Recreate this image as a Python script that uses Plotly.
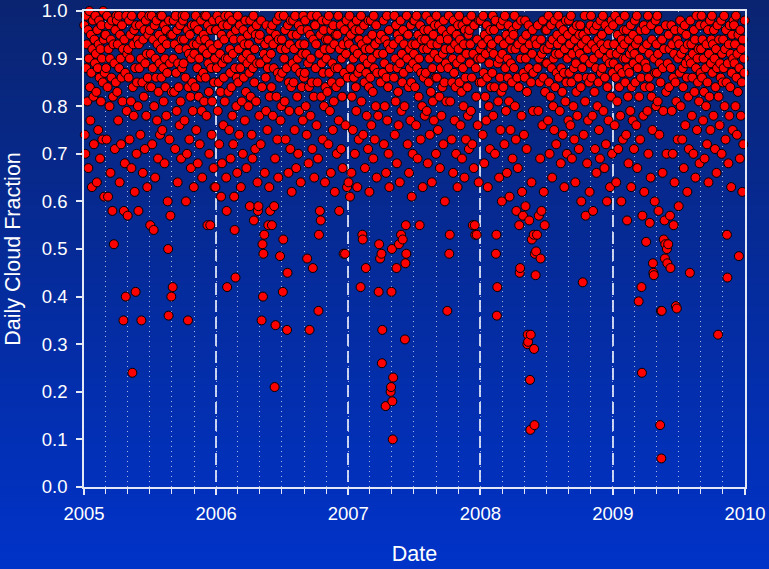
import pandas as pd
import plotly.graph_objects as go

# Daily cloud fraction readings, one list per month (Jan..Dec) for each year
cf_2005 = [
    [.97,.74,.70,.99,.88,.93,.81,.96,.67,.90,1.0,.84,.77,.95,.87,.63,.92,.98,.82,.72,.94,.89],
    [.99,.91,.83,.64,.96,.88,.75,.93,.98,.86,.69,.92,.81,.97,.90,.73,.85,1.0,.94,.61,.87,.95],
    [.95,.88,.73,.99,.84,.61,.92,.97,.80,.90,.66,.94,.86,.98,.58,.82,.93,.51,.89,.71,.96,.85,.99],
    [.98,.83,.93,.77,.99,.88,.64,.95,.90,.72,.86,.97,.81,.92,.35,.58,.94,.68,.87,.40,.99,.79,.91],
    [.57,.92,.86,.98,.73,.90,.95,.81,.67,.99,.24,.84,.93,.78,.96,.62,.88,.41,.97,.70,.85,.94,.80,.58],
    [.93,.88,.97,.74,.90,.35,.99,.85,.66,.94,.82,.96,.71,.89,.98,.78,.91,.63,.86,.95,.84,.99],
    [.96,.55,.91,.84,.99,.72,.88,.94,.54,.80,.97,.65,.90,.86,.98,.77,.93,.69,.83,.95,.89,.74,.99],
    [.92,.86,.99,.75,.94,.88,.81,.97,.68,.90,.84,.96,.78,.93,.87,.60,.50,.36,.98,.73,.89,.57,.95,.40,.83],
    [.95,.42,.90,.98,.83,.93,.71,.99,.87,.79,.96,.64,.89,.84,.92,.76,.97,.81,.69,.94,.88,.99],
    [.98,.89,.94,.77,.99,.86,.60,.92,.70,.96,.35,.84,.91,.73,.95,.82,.67,.90,.97,.85,.79,.93,.63],
    [.91,.97,.84,.99,.75,.93,.88,.68,.96,.82,.90,.72,.94,.86,.98,.79,.65,.92,.87,.95,.81,.99],
    [.94,.86,.99,.78,.91,.55,.97,.89,.83,.70,.93,.55,.96,.88,.74,.81,.92,.98,.67,.85,.63,.90,.63,.96],
]
cf_2006 = [
    [.96,.88,.99,.79,.93,.85,.72,.98,.91,.83,.61,.95,.68,.89,.97,.76,.86,.94,.81,.99,.90,.65,.58,.42],
    [.97,.90,.83,.99,.75,.92,.87,.69,.95,.84,.98,.78,.91,.72,.94,.61,.54,.88,.44,.96,.80,.86,.66],
    [.99,.85,.92,.74,.97,.88,.63,.94,.81,.90,.70,.96,.86,.93,.77,.98,.83,.67,.91,.89,.95,.80],
    [.93,.87,.59,.98,.82,.90,.74,.96,.69,.88,.99,.56,.85,.92,.71,.95,.81,.97,.89,.64,.58,.59,.94,.78],
    [.95,.89,.72,.98,.35,.84,.51,.40,.49,.91,.53,.66,.93,.86,.79,.97,.90,.75,.88,.55,.94,.63,.82,.58,.96],
    [.91,.84,.55,.97,.78,.93,.88,.59,.21,.69,.34,.95,.82,.98,.73,.87,.65,.94,.99,.86,.485,.77,.92,.80],
    [.94,.87,.41,.52,.99,.90,.81,.96,.73,.92,.88,.33,.45,.97,.66,.85,.79,.93,.71,.98,.84,.62,.95,.89],
    [.98,.85,.92,.75,.99,.88,.67,.95,.82,.90,.70,.97,.79,.93,.87,.64,.96,.84,.91,.77,.99,.86],
    [.93,.87,.98,.80,.91,.74,.48,.96,.89,.68,.84,.33,.95,.78,.90,.99,.85,.71,.46,.94,.82,.65,.97],
    [.97,.88,.93,.76,.99,.85,.69,.37,.53,.91,.58,.95,.56,.82,.89,.98,.73,.87,.96,.80,.92,.64,.84,.94],
    [.90,.98,.83,.94,.72,.99,.87,.79,.92,.66,.96,.85,.89,.75,.97,.81,.93,.62,.88,.95,.84,.70],
    [.95,.88,.99,.77,.58,.92,.85,.97,.71,.90,.82,.67,.93,.49,.87,.96,.49,.76,.91,.98,.63,.86,.94],
]
cf_2007 = [
    [.64,.93,.99,.61,.88,.95,.66,.82,.97,.75,.90,.86,.92,.70,.96,.84,.79,.98,.63,.91,.87,.73,.94],
    [.96,.88,.42,.99,.81,.93,.53,.52,.74,.90,.97,.85,.67,.92,.46,.87,.78,.94,.89,.71,.98,.84,.62],
    [.92,.86,.98,.76,.90,.95,.83,.69,.99,.88,.73,.93,.80,.97,.65,.87,.91,.78,.41,.51,.94,.48,.85],
    [.95,.49,.26,.33,.87,.91,.98,.72,.89,.80,.94,.17,.66,.86,.99,.77,.93,.84,.70,.96,.63,.88,.92,.20,.21,.41],
    [.50,.18,.10,.23,.93,.86,.99,.74,.90,.81,.97,.46,.68,.88,.95,.83,.76,.51,.94,.64,.89,.98,.53,.79,.91,.85,.52],
    [.96,.87,.93,.80,.31,.47,.55,.49,.99,.90,.72,.95,.84,.66,.92,.88,.77,.97,.85,.61,.93,.70,.89,.98],
    [.91,.98,.84,.93,.76,.99,.88,.69,.95,.82,.90,.55,.97,.73,.87,.94,.80,.63,.92,.86,.96,.78],
    [.94,.87,.99,.79,.92,.68,.96,.85,.90,.74,.98,.83,.93,.64,.88,.81,.95,.77,.91,.97,.86,.70],
    [.99,.86,.93,.75,.90,.97,.82,.67,.94,.88,.78,.96,.84,.91,.72,.98,.85,.60,.92,.89,.81,.95],
    [.37,.94,.88,.99,.49,.53,.81,.92,.96,.73,.85,.90,.66,.98,.87,.77,.93,.84,.70,.95,.89,.63,.97],
    [.92,.99,.85,.94,.76,.90,.83,.69,.97,.88,.80,.93,.65,.96,.86,.73,.91,.98,.84,.78,.95,.71],
    [.96,.89,.93,.79,.99,.86,.72,.55,.91,.67,.97,.55,.53,.88,.82,.53,.94,.76,.90,.64,.98,.85,.92],
]
cf_2008 = [
    [.98,.90,.85,.93,.74,.99,.87,.68,.95,.82,.91,.77,.97,.86,.63,.94,.80,.89,.71,.96,.84,.92],
    [.93,.87,.99,.78,.91,.96,.84,.70,.98,.49,.53,.36,.42,.89,.81,.94,.65,.90,.86,.75,.97,.83,.60],
    [.91,.98,.84,.93,.72,.99,.88,.79,.95,.66,.90,.86,.97,.81,.61,.94,.75,.89,.92,.85,.69,.96],
    [.95,.88,.99,.80,.92,.73,.58,.97,.86,.67,.93,.84,.55,.45,.46,.90,.98,.78,.62,.94,.57,.87,.74],
    [.92,.86,.98,.59,.90,.95,.71,.83,.30,.32,.305,.97,.88,.56,.93,.225,.12,.32,.85,.64,.52,.91,.96,.79,.87,.53,.29,.13,.49,.94],
    [.445,.495,.93,.53,.88,.97,.79,.57,.90,.85,.69,.48,.94,.58,.91,.76,.98,.86,.62,.92,.55,.83,.96,.89],
    [.96,.89,.92,.77,.99,.85,.70,.93,.82,.97,.88,.65,.94,.80,.90,.75,.98,.84,.91,.72,.87,.95],
    [.93,.99,.86,.91,.79,.97,.68,.88,.94,.83,.74,.96,.87,.63,.92,.81,.98,.85,.70,.90,.95,.77],
    [.98,.87,.93,.76,.99,.85,.69,.91,.96,.80,.88,.73,.94,.64,.89,.83,.97,.78,.92,.86,.71,.95],
    [.91,.97,.84,.60,.93,.88,.43,.95,.74,.90,.99,.81,.57,.94,.86,.68,.92,.77,.96,.85,.62,.89,.97],
    [.99,.86,.93,.78,.58,.90,.96,.83,.71,.92,.88,.66,.97,.80,.94,.85,.75,.91,.69,.98,.87,.93],
    [.95,.88,.99,.79,.92,.67,.86,.97,.72,.90,.60,.84,.93,.77,.96,.89,.63,.91,.82,.98,.70,.87],
]
cf_2009 = [
    [.97,.89,.93,.76,.99,.86,.64,.91,.81,.95,.71,.88,.84,.98,.78,.92,.60,.94,.87,.73,.90,.96],
    [.93,.99,.85,.90,.74,.96,.56,.88,.82,.68,.94,.87,.91,.79,.97,.63,.84,.92,.77,.95,.89,.71],
    [.91,.98,.85,.93,.76,.99,.67,.88,.94,.39,.82,.90,.73,.96,.86,.42,.24,.57,.92,.78,.97,.62,.84,.89],
    [.96,.515,.88,.93,.79,.99,.70,.86,.91,.555,.84,.65,.97,.82,.94,.75,.47,.45,.445,.90,.60,.87,.98,.80],
    [.93,.87,.99,.81,.91,.58,.96,.74,.89,.13,.85,.37,.06,.37,.94,.66,.88,.79,.52,.92,.56,.48,.51,.97,.83,.70,.50,.47],
    [.89,.51,.95,.84,.92,.57,.46,.88,.97,.79,.93,.70,.86,.55,.91,.64,.96,.85,.38,.81,.375,.94,.73,.90],
    [.59,.93,.87,.98,.80,.91,.96,.73,.88,.84,.67,.92,.97,.76,.89,.95,.86,.62,.93,.82,.71,.90],
    [.45,.98,.89,.93,.78,.86,.91,.70,.96,.83,.94,.65,.88,.99,.75,.90,.85,.92,.81,.68,.97,.87],
    [.92,.99,.86,.94,.77,.90,.83,.69,.97,.88,.80,.93,.72,.85,.96,.64,.91,.82,.98,.75,.89,.94],
    [.99,.87,.93,.78,.96,.90,.71,.84,.92,.66,.88,.97,.32,.82,.94,.76,.89,.86,.98,.70,.91,.85],
    [.94,.88,.99,.80,.92,.73,.96,.85,.53,.44,.89,.68,.93,.78,.97,.84,.91,.63,.87,.95,.75,.90,.98],
    [.97,.89,.93,.80,.99,.86,.74,.91,.83,.95,.485,.88,.69,.96,.78,.92,.85,.62,.94,.72,.90,.87,.98],
]

years = [2005, 2006, 2007, 2008, 2009]
year_data = [cf_2005, cf_2006, cf_2007, cf_2008, cf_2009]
y_ticks = [0.0, 0.1, 0.2, 0.3, 0.4, 0.5, 0.6, 0.7, 0.8, 0.9, 1.0]
x_tick_labels = ["2005", "2006", "2007", "2008", "2009", "2010"]

# readings of each month are spread over that month's days
dates, values = [], []
for year, months in zip(years, year_data):
    for m, month_vals in enumerate(months, start=1):
        start = pd.Timestamp(year, m, 1)
        nd = start.days_in_month
        n = len(month_vals)
        for i, v in enumerate(month_vals):
            dates.append(start + pd.Timedelta(days=(i + 0.5) * nd / n))
            values.append(v)

W, H = 769, 569
ml, mr, mt, mb = 84, 24, 11, 82
pw, ph = W - ml - mr, H - mt - mb

fig = go.Figure()
fig.add_trace(go.Scatter(
    x=dates, y=values, mode="markers", cliponaxis=False,
    marker=dict(size=9, color="#ff0000", line=dict(color="#000000", width=1)),
    hoverinfo="x+y", showlegend=False,
))

# vertical gradient background across the whole figure
top = (10, 36, 112)
bot = (0, 51, 201)
nb = 80
shapes = []
y0p, y1p = -mb / ph - 0.01, 1 + mt / ph + 0.01
for k in range(nb):
    t = (k + 0.5) / nb
    c = tuple(int(round(bot[j] + (top[j] - bot[j]) * t)) for j in range(3))
    ya = y0p + (y1p - y0p) * k / nb
    yb = y0p + (y1p - y0p) * (k + 1) / nb + 0.002
    shapes.append(dict(type="rect", xref="paper", yref="paper", layer="below",
                       x0=-ml / pw - 0.02, x1=1 + mr / pw + 0.02, y0=ya, y1=yb,
                       fillcolor="rgb(%d,%d,%d)" % c, line=dict(width=0)))

tick_font = dict(family="Liberation Sans, Arial, sans-serif", size=18.5, color="#ffffff")
title_font = dict(family="Liberation Sans, Arial, sans-serif", size=21.5, color="#ffffff")
axis_col = "#e4e8f4"

fig.update_layout(
    width=W, height=H,
    margin=dict(l=ml, r=mr, t=mt, b=mb, autoexpand=False),
    paper_bgcolor="rgb(5,44,160)",
    plot_bgcolor="rgba(0,0,0,0)",
    shapes=shapes,
    xaxis=dict(
        type="date", automargin=False,
        range=["2005-01-01", "2010-01-01"],
        tickmode="array",
        tickvals=[pd.Timestamp(int(s), 1, 1) for s in x_tick_labels],
        ticktext=x_tick_labels,
        ticks="outside", ticklen=6, tickwidth=1.5, tickcolor=axis_col,
        tickfont=tick_font, ticklabelstandoff=3,
        showline=True, linecolor=axis_col, linewidth=1.5, mirror=True,
        showgrid=True, gridcolor="rgba(232,236,250,0.85)", gridwidth=2, griddash="12px,5px",
        zeroline=False,
        minor=dict(dtick="M2", tick0="2005-01-01", ticks="outside", ticklen=5,
                   tickcolor=axis_col, tickwidth=1,
                   showgrid=True, gridcolor="rgba(235,238,248,0.7)", gridwidth=1,
                   griddash="1px,4px"),
        title=dict(text="Date", font=title_font, standoff=23),
    ),
    yaxis=dict(
        range=[0, 1], automargin=False,
        tickmode="array", tickvals=y_ticks,
        ticktext=["%.1f" % v for v in y_ticks],
        ticks="outside", ticklen=6, tickwidth=1.5, tickcolor=axis_col,
        tickfont=tick_font, ticklabelstandoff=5,
        showline=True, linecolor=axis_col, linewidth=1.5, mirror=True,
        showgrid=False, zeroline=False,
        title=dict(text="Daily Cloud Fraction", font=title_font, standoff=15),
    ),
)

fig.write_html(
    "out.html",
    config={"responsive": False, "displayModeBar": False},
    post_script="document.body.style.margin='0';document.body.style.padding='0';"
                "document.body.style.background='rgb(0,51,201)';",
)
